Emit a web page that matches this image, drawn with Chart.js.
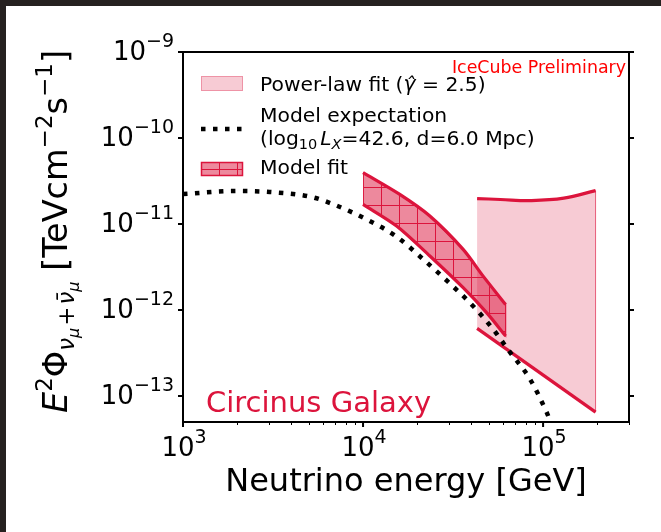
<!DOCTYPE html>
<html lang="en">
<head>
<meta charset="UTF-8">
<title>Circinus Galaxy</title>
<script src="https://cdn.jsdelivr.net/npm/chart.js"></script>
<style>
  html, body { margin: 0; padding: 0; background: #262120; }
  #chart { position: absolute; left: 0; top: 0; }
</style>
</head>
<body>
<canvas id="chart" width="661" height="532"></canvas>
<script>
// Model expectation (dotted black)
const modelE = [1000, 1960, 3030, 5190, 6870, 10450, 15350, 21580, 30340, 40930, 52840, 65460, 84530, 104700, 112000];
const modelF = [2.23e-11, 2.42e-11, 2.36e-11, 2.06e-11, 1.69e-11, 1.135e-11, 7.13e-12, 3.89e-12, 2.04e-12, 1.11e-12, 5.97e-13, 3.24e-13, 1.58e-13, 6.46e-14, 4.6e-14];

// Model fit band (hatched)
const fitUpperE = [10000, 16000, 23500, 35970, 46450, 61940];
const fitUpperF = [3.96e-11, 2.21e-11, 1.24e-11, 5.08e-12, 2.48e-12, 1.16e-12];
const fitLowerE = [10000, 15350, 23500, 35970, 48530, 61940];
const fitLowerF = [1.69e-11, 9.48e-12, 4.25e-12, 1.82e-12, 9.33e-13, 4.99e-13];

// Power-law fit band (light pink)
const plUpperE = [43000, 57900, 86200, 130300, 195600];
const plUpperF = [1.98e-11, 1.93e-11, 1.875e-11, 2.00e-11, 2.45e-11];
const plLowerE = [43000, 195600];
const plLowerF = [6.12e-13, 6.52e-14];

// axes
const xMin = 1e3, xMax = 3e5;
const yMin = 5e-14, yMax = 1e-9;
const xMajor = [1e3, 1e4, 1e5];
const xMajorExp = ['3', '4', '5'];
const yMajor = [1e-9, 1e-10, 1e-11, 1e-12, 1e-13];
const yMajorExp = ['\u22129', '\u221210', '\u221211', '\u221212', '\u221213'];

const CRIMSON = '#dc143c';
const FONT = '"DejaVu Sans", "Liberation Sans", sans-serif';

function pts(xs, ys) {
    return xs.map((x, i) => ({x: x, y: ys[i]}));
}
function poly(ux, uy, lx, ly) {
    return pts(ux, uy).concat(pts(lx, ly).reverse());
}

function makeHatch() {
    const c = document.createElement('canvas');
    c.width = 18; c.height = 18;
    const g = c.getContext('2d');
    g.fillStyle = 'rgba(220,20,60,0.5)';
    g.fillRect(0, 0, 18, 18);
    g.strokeStyle = CRIMSON;
    g.lineWidth = 1;
    g.beginPath();
    g.moveTo(0.5, 0); g.lineTo(0.5, 18);
    g.moveTo(0, 0.5); g.lineTo(18, 0.5);
    g.stroke();
    const p = document.getElementById('chart').getContext('2d').createPattern(c, 'repeat');
    p.setTransform(new DOMMatrix().translate(3, 7));
    return p;
}
const hatch = makeHatch();

function drawRich(ctx, parts, x, y) {
    let cx = x;
    for (const p of parts) {
        ctx.font = (p.it ? 'italic ' : '') + p.size + 'px ' + FONT;
        ctx.fillText(p.t, cx, y + (p.dy || 0));
        cx += ctx.measureText(p.t).width + (p.gap || 0);
    }
    return cx - x;
}
function richWidth(ctx, parts) {
    let w = 0;
    for (const p of parts) {
        ctx.font = (p.it ? 'italic ' : '') + p.size + 'px ' + FONT;
        w += ctx.measureText(p.t).width + (p.gap || 0);
    }
    return w;
}

const decorations = {
    id: 'decorations',
    beforeDraw(chart) {
        const ctx = chart.ctx;
        ctx.save();
        ctx.fillStyle = '#262120';
        ctx.fillRect(0, 0, chart.width, chart.height);
        ctx.fillStyle = '#ffffff';
        ctx.fillRect(6, 6, chart.width - 6, chart.height - 6);
        ctx.restore();
    },
    afterDraw(chart) {
        const ctx = chart.ctx;
        const a = chart.chartArea;
        const xs = chart.scales.x, ys = chart.scales.y;
        ctx.save();

        // frame
        ctx.strokeStyle = '#000';
        ctx.lineWidth = 2;
        ctx.strokeRect(a.left, a.top, a.right - a.left, a.bottom - a.top);

        // x ticks
        ctx.beginPath();
        xMajor.forEach(v => {
            const px = xs.getPixelForValue(v);
            ctx.moveTo(px, a.bottom); ctx.lineTo(px, a.bottom + 5);
        });
        ctx.stroke();
        ctx.lineWidth = 1;
        ctx.beginPath();
        for (let d = 1e3; d < xMax; d *= 10) {
            for (let m = 2; m <= 9; m++) {
                const v = m * d;
                if (v > xMax) break;
                const px = Math.round(xs.getPixelForValue(v)) + 0.5;
                ctx.moveTo(px, a.bottom); ctx.lineTo(px, a.bottom + 3);
            }
        }
        ctx.stroke();

        // y ticks, left and right
        ctx.lineWidth = 2;
        ctx.beginPath();
        yMajor.forEach(v => {
            const py = ys.getPixelForValue(v);
            ctx.moveTo(a.left, py); ctx.lineTo(a.left - 5, py);
            ctx.moveTo(a.right, py); ctx.lineTo(a.right + 5, py);
        });
        ctx.stroke();

        // tick labels
        ctx.fillStyle = '#000';
        ctx.textBaseline = 'alphabetic';
        ctx.textAlign = 'left';
        xMajor.forEach((v, i) => {
            const parts = [{t: '10', size: 26}, {t: xMajorExp[i], size: 19, dy: -13}];
            const w = richWidth(ctx, parts);
            drawRich(ctx, parts, xs.getPixelForValue(v) - w / 2 + 1, a.bottom + 34);
        });
        yMajor.forEach((v, i) => {
            const parts = [{t: '10', size: 26}, {t: yMajorExp[i], size: 19, dy: -13}];
            const w = richWidth(ctx, parts);
            drawRich(ctx, parts, a.left - 9 - w, ys.getPixelForValue(v) + 8);
        });

        // x axis title
        ctx.font = '32px ' + FONT;
        ctx.textAlign = 'center';
        ctx.fillText('Neutrino energy [GeV]', (a.left + a.right) / 2, 491);

        // y axis title
        ctx.textAlign = 'left';
        const yTitle = [
            {t: 'E', size: 33.5, it: true},
            {t: '2', size: 23, dy: -15},
            {t: '\u03A6', size: 33.5},
            {t: '\u03BD', size: 23, it: true, dy: 7},
            {t: '\u03BC', size: 16, it: true, dy: 12, gap: 2},
            {t: '+', size: 23, dy: 7, gap: 2},
            {t: '\u03BD\u0304', size: 23, it: true, dy: 7},
            {t: '\u03BC', size: 16, it: true, dy: 12},
            {t: ' [TeVcm', size: 33.5},
            {t: '\u22122', size: 23, dy: -15},
            {t: 's', size: 33.5},
            {t: '\u22121', size: 23, dy: -15},
            {t: ']', size: 33.5}
        ];
        const tw = richWidth(ctx, yTitle);
        ctx.save();
        ctx.translate(67, 231.5 + tw / 2);
        ctx.rotate(-Math.PI / 2);
        drawRich(ctx, yTitle, 0, 0);
        ctx.restore();

        // legend
        ctx.fillStyle = 'rgba(220,20,60,0.22)';
        ctx.fillRect(201, 76, 42, 15);
        ctx.strokeStyle = 'rgba(220,20,60,0.3)';
        ctx.lineWidth = 1;
        ctx.strokeRect(201.5, 76.5, 41, 14);

        ctx.strokeStyle = '#000';
        ctx.lineWidth = 4.5;
        ctx.setLineDash([4.5, 7.5]);
        ctx.beginPath();
        ctx.moveTo(201, 129); ctx.lineTo(244, 129);
        ctx.stroke();
        ctx.setLineDash([]);

        ctx.fillStyle = hatch;
        ctx.fillRect(201, 162, 42, 14);
        ctx.strokeStyle = CRIMSON;
        ctx.lineWidth = 1.5;
        ctx.strokeRect(201.5, 162.5, 41, 13);

        ctx.fillStyle = '#000';
        const LS = 20.3;
        drawRich(ctx, [
            {t: 'Power-law fit (', size: LS},
            {t: '\u03B3\u0302', size: LS, it: true},
            {t: ' = 2.5)', size: LS}
        ], 260, 91);
        drawRich(ctx, [{t: 'Model expectation', size: LS}], 260, 121.5);
        drawRich(ctx, [
            {t: '(log', size: LS},
            {t: '10', size: 14.5, dy: 4, gap: 3},
            {t: 'L', size: LS, it: true},
            {t: 'X', size: 14.5, it: true, dy: 4},
            {t: '=42.6, d=6.0 Mpc)', size: LS}
        ], 260, 145);
        drawRich(ctx, [{t: 'Model fit', size: LS}], 260, 173.5);

        // annotations
        ctx.fillStyle = '#ff0000';
        ctx.font = '17.4px ' + FONT;
        ctx.textAlign = 'right';
        ctx.fillText('IceCube Preliminary', 626, 73);

        ctx.fillStyle = CRIMSON;
        ctx.font = '29px ' + FONT;
        ctx.textAlign = 'left';
        ctx.fillText('Circinus Galaxy', 206, 412);

        ctx.restore();
    }
};

const lineBase = {pointRadius: 0, tension: 0, fill: false};

new Chart(document.getElementById('chart'), {
    type: 'line',
    data: {
        datasets: [
            Object.assign({}, lineBase, {
                label: 'Model expectation',
                data: pts(modelE, modelF),
                borderColor: '#000',
                borderWidth: 4.5,
                borderDash: [4.5, 7.5],
                cubicInterpolationMode: 'monotone',
                order: 0
            }),
            Object.assign({}, lineBase, {
                data: pts(fitUpperE, fitUpperF),
                borderColor: CRIMSON, borderWidth: 3.2, tension: 0.3, order: 1
            }),
            Object.assign({}, lineBase, {
                data: pts(fitLowerE, fitLowerF),
                borderColor: CRIMSON, borderWidth: 3.2, tension: 0.3, order: 1
            }),
            Object.assign({}, lineBase, {
                data: pts(plUpperE, plUpperF),
                borderColor: CRIMSON, borderWidth: 3.2, tension: 0.4, order: 1
            }),
            Object.assign({}, lineBase, {
                data: pts(plLowerE, plLowerF),
                borderColor: CRIMSON, borderWidth: 3.2, order: 1
            }),
            Object.assign({}, lineBase, {
                label: 'Model fit',
                data: poly(fitUpperE, fitUpperF, fitLowerE, fitLowerF),
                fill: 'shape',
                backgroundColor: hatch,
                borderColor: CRIMSON,
                borderWidth: 1.2,
                order: 2
            }),
            Object.assign({}, lineBase, {
                label: 'Power-law fit',
                data: poly(plUpperE, plUpperF, plLowerE, plLowerF),
                fill: 'shape',
                backgroundColor: 'rgba(220,20,60,0.22)',
                borderColor: 'rgba(220,20,60,0.28)',
                borderWidth: 1,
                order: 3
            })
        ]
    },
    options: {
        responsive: false,
        animation: false,
        layout: {padding: {left: 183, top: 52, right: 32, bottom: 110}},
        scales: {
            x: {type: 'logarithmic', min: xMin, max: xMax, display: false},
            y: {type: 'logarithmic', min: yMin, max: yMax, display: false}
        },
        plugins: {
            legend: {display: false},
            tooltip: {enabled: false}
        }
    },
    plugins: [decorations]
});
</script>
</body>
</html>
